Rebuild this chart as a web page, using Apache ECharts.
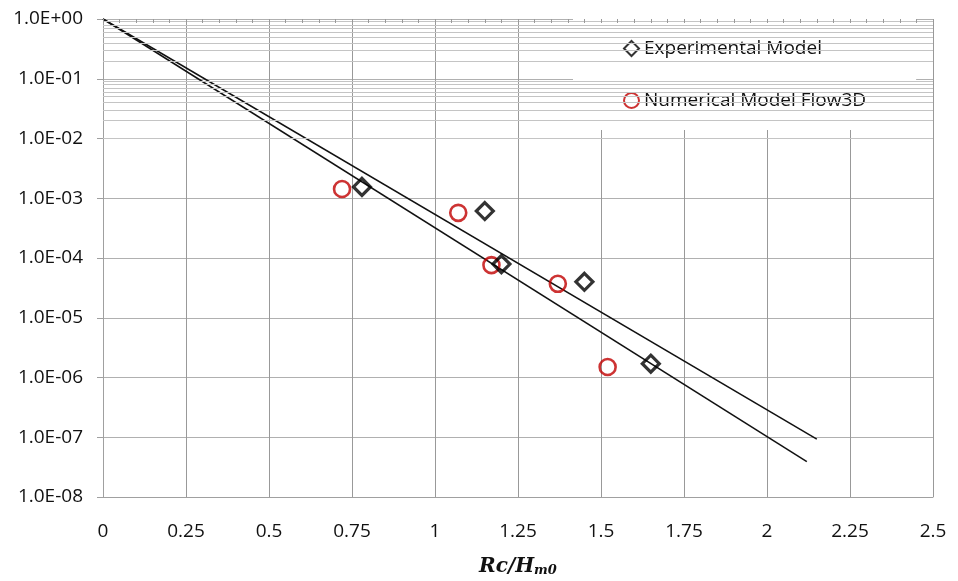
<!DOCTYPE html>
<html>
<head>
<meta charset="utf-8">
<script src="https://cdn.jsdelivr.net/npm/echarts@6/dist/echarts.min.js"></script>
<style>html,body{margin:0;padding:0;background:#fff}#c{width:958px;height:581px}</style>
</head>
<body>
<div id="c"></div>
<script>
// ---- data ----
const expX = [0.78, 1.15, 1.20, 1.45, 1.65];
const expY = [1.55e-3, 6.1e-4, 7.9e-5, 4.0e-5, 1.7e-6];
const numX = [0.72, 1.07, 1.17, 1.37, 1.52];
const numY = [1.43e-3, 5.7e-4, 7.6e-5, 3.7e-5, 1.5e-6];
const lineUpperX = [0, 2.15];
const lineUpperY = [1, 9.3e-8];
const lineLowerX = [0, 2.12];
const lineLowerY = [1, 3.9e-8];
const xTicks = [0, 0.25, 0.5, 0.75, 1, 1.25, 1.5, 1.75, 2, 2.25, 2.5];
const decadeExps = [-8, -7, -6, -5, -4, -3, -2, -1, 0];
const minorMults = [2, 3, 4, 5, 6, 7, 8, 9];

const zip = (a, b) => a.map((v, i) => [v, b[i]]);

const minorLines = [];
decadeExps.slice(0, -1).forEach(e => {
  minorMults.forEach(m => minorLines.push({ yAxis: m * Math.pow(10, e) }));
});

function fmtY(v) {
  const e = Math.round(Math.log10(v));
  const s = e < 0 ? '-' : '+';
  const a = Math.abs(e);
  return '1.0E' + s + (a < 10 ? '0' : '') + a;
}

const chart = echarts.init(document.getElementById('c'));
chart.setOption({
  animation: false,
  backgroundColor: '#fff',
  textStyle: { fontFamily: 'Open Sans' },
  grid: { left: 103, right: 25, top: 19, bottom: 84, containLabel: false, outerBoundsMode: 'none' },
  legend: {
    orient: 'vertical',
    left: 573, top: 19,
    z: 2,
    padding: [20, 50, 20, 50],
    backgroundColor: '#fff',
    itemWidth: 15, itemHeight: 15,
    itemGap: 33,
    textStyle: { fontSize: 19, color: '#111', fontFamily: 'Open Sans' },
    data: ['Experimental Model', 'Numerical Model Flow3D']
  },
  xAxis: [{
    type: 'value', min: 0, max: 2.5, interval: 0.25,
    axisLine: { show: true, lineStyle: { color: '#a0a0a0' } },
    axisTick: { show: false },
    axisLabel: { fontSize: 19, color: '#111', margin: 25,
      formatter: v => String(+v.toFixed(2)) },
    splitLine: { show: true, lineStyle: { color: '#999', width: 1 } },
    name: '{a|Rc/H}{b|m0}',
    nameLocation: 'middle', nameGap: 60,
    nameTextStyle: {
      rich: {
        a: { fontFamily: 'DejaVu Serif', fontWeight: 'bold', fontStyle: 'italic', fontSize: 20, color: '#111' },
        b: { fontFamily: 'DejaVu Serif', fontWeight: 'bold', fontStyle: 'italic', fontSize: 13, color: '#111', verticalAlign: 'bottom', padding: [6, 0, 0, 0] }
      }
    }
  }, {
    type: 'value', min: 0, max: 2.5, interval: 0.05, position: 'top',
    z: 10,
    axisLine: { show: false },
    axisTick: { show: true, inside: true, length: 4, lineStyle: { color: '#999' } },
    axisLabel: { show: false },
    splitLine: { show: false }
  }],
  yAxis: {
    type: 'log', logBase: 10, min: 1e-8, max: 1, interval: 1,
    axisLine: { show: true, lineStyle: { color: '#a0a0a0' } },
    axisTick: { show: true, inside: false, length: 6, lineStyle: { color: '#a0a0a0' } },
    axisLabel: { fontSize: 19, color: '#111', margin: 20, formatter: fmtY },
    splitLine: { show: true, lineStyle: { color: '#b0b0b0', width: 1 } }
  },
  series: [
    {
      name: 'minor', type: 'line', data: [], silent: true,
      markLine: {
        silent: true, symbol: 'none', label: { show: false },
        lineStyle: { color: '#c4c4c4', type: 'solid', width: 1 },
        data: minorLines
      },
      z: 1
    },
    {
      name: 'upper', type: 'line', data: zip(lineUpperX, lineUpperY),
      showSymbol: false, symbol: 'none',
      lineStyle: { color: '#111', width: 1.5 }, z: 3
    },
    {
      name: 'lower', type: 'line', data: zip(lineLowerX, lineLowerY),
      showSymbol: false, symbol: 'none',
      lineStyle: { color: '#111', width: 1.5 }, z: 3
    },
    {
      name: 'Numerical Model Flow3D', type: 'scatter', data: zip(numX, numY),
      symbol: 'circle', symbolSize: 16,
      itemStyle: { color: 'rgba(255,255,255,0)', borderColor: '#c00000', borderWidth: 2.6 },
      z: 5
    },
    {
      name: 'Experimental Model', type: 'scatter', data: zip(expX, expY),
      symbol: 'diamond', symbolSize: 17,
      itemStyle: { color: 'rgba(255,255,255,0)', borderColor: '#000', borderWidth: 3.2 },
      z: 6
    }
  ]
});
</script>
</body>
</html>
